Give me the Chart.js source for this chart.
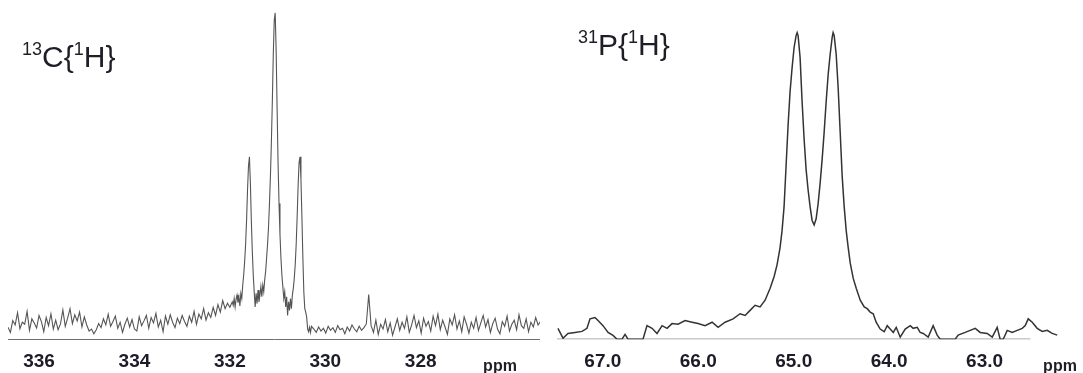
<!DOCTYPE html>
<html><head><meta charset="utf-8">
<script src="https://cdn.jsdelivr.net/npm/chart.js@4/dist/chart.umd.min.js"></script>
<style>
html,body{margin:0;padding:0;background:#fff;width:1083px;height:373px;overflow:hidden}
#c1{position:absolute;left:0;top:0}
#c2{position:absolute;left:540px;top:0}
</style></head><body>
<canvas id="c1" width="540" height="384"></canvas>
<canvas id="c2" width="543" height="384"></canvas>
<script>
// ---------- 13C{1H} spectrum ----------
const c13Ticks = [336, 334, 332, 330, 328];
const c13NoiseLeftStart = 336.65, c13NoiseLeftStep = 0.05;
const c13NoiseLeft = [3.5,2.0,5.5,4.2,7.8,3.1,5.0,4.4,8.2,2.6,6.0,4.8,3.3,7.0,5.2,2.2,6.4,4.0,7.5,3.0,5.6,2.8,
 4.5,8.6,3.8,6.2,9.0,4.6,7.2,5.4,8.0,3.6,6.6,4.2,2.4,3.0,1.6,2.8,4.6,3.4,6.0,4.2,7.4,3.8,5.2,6.8,3.2,
 5.0,2.0,4.4,6.2,3.6,5.8,3.0,2.4,6.6,4.0,5.4,7.0,3.2,6.4,4.8,7.6,3.6,5.6,2.2,6.8,4.4,7.2,5.0,3.4,6.2,
 4.6,7.0,5.2,3.8,6.8,5.0,8.2,4.4,7.4,6.0,9.0,5.6,7.8,6.4,9.4,7.0,10.2,8.0,11.4,9.0,10.6,9.4,11.0];
const c13PeakStart = 331.93, c13PeakStep = 0.02;
const c13Peaks = [10.0,12.0,9.5,11.8,13.0,10.8,12.5,9.8,13.5,12.0,
 16.0,19.0,23.0,28.0,35.0,44.0,51.0,53.8,46.0,35.0,
 26.0,19.0,14.0,9.5,13.5,10.5,14.5,11.0,13.0,15.5,
 12.5,16.0,14.0,17.5,20.0,24.0,28.0,33.0,40.0,48.0,
 58.0,70.0,84.0,94.0,96.2,85.0,68.0,52.0,40.0,31.0,
 24.0,19.0,15.5,12.0,14.0,9.5,12.5,7.0,11.0,8.5,
 12.0,9.0,13.0,15.0,18.0,22.0,28.0,36.0,45.0,52.0,
 53.8,47.0,36.0,24.0,14.0,9.0,8.0,6.5,3.0,2.2,
 3.5,2.0,3.8];
const c13NoiseRightStart = 330.24, c13NoiseRightStep = 0.05;
const c13NoiseRight = [3.0,2.0,3.6,2.4,3.2,1.8,3.8,2.6,3.4,2.0,4.0,2.8,3.2,1.6,3.6,2.4,4.2,3.0,2.2,3.8,2.6,3.4,
 4.5,13.2,4.0,
 2.0,5.6,1.4,4.4,3.0,5.8,2.2,4.8,1.2,3.6,6.0,2.6,5.0,3.2,6.6,2.0,4.2,7.0,3.4,5.4,1.8,6.2,3.8,
 5.2,2.4,6.8,4.0,7.4,2.8,5.6,3.6,1.4,6.0,4.2,7.2,3.0,5.4,2.2,6.6,4.4,1.8,5.0,3.2,6.4,2.6,4.8,7.0,
 3.6,5.8,2.0,4.6,6.2,3.0,1.6,5.2,3.8,6.8,2.4,4.4,5.6,2.8,7.2,4.0,3.2,6.0,2.2,5.0,3.6,6.4,4.2,5.2];

// ---------- 31P{1H} spectrum ----------
const p31Ticks = [67, 66, 65, 64, 63];
const p31Ppm = [67.470,67.417,67.365,67.291,67.218,67.166,67.134,67.082,67.050,66.998,66.945,66.893,66.851,66.799,66.767,66.736,
 66.579,66.537,66.484,66.432,66.379,66.327,66.275,66.212,66.138,66.065,66.002,65.929,65.855,65.792,65.719,65.635,
 65.562,65.509,65.457,65.405,65.352,65.300,65.247,65.205,65.174,65.143,65.122,65.101,65.080,65.059,65.038,65.017,
 64.996,64.975,64.964,64.954,64.933,64.912,64.891,64.870,64.849,64.828,64.807,64.786,64.765,64.744,64.723,64.702,
 64.681,64.660,64.639,64.618,64.597,64.587,64.576,64.555,64.534,64.513,64.492,64.471,64.450,64.429,64.408,64.377,
 64.345,64.303,64.261,64.230,64.199,64.167,64.136,64.094,64.052,64.020,63.989,63.957,63.926,63.884,63.832,63.779,
 63.748,63.706,63.675,63.643,63.591,63.539,63.497,63.465,63.308,63.277,63.203,63.151,63.098,63.046,62.973,62.920,
 62.868,62.837,62.805,62.763,62.711,62.658,62.606,62.574,62.543,62.501,62.449,62.396,62.344,62.292,62.239];
const p31Int = [3.2,0.3,1.7,2.0,2.3,3.2,6.0,6.4,5.5,4.0,2.0,1.1,0,0,1.4,0,
 0,4.0,3.2,1.7,4.0,3.2,4.6,4.4,5.5,5.0,4.6,4.0,5.0,3.5,5.0,6.0,
 7.5,7.0,8.5,10.0,9.5,11.5,15.0,18.5,22.0,27.0,32.0,39.0,51.0,63.0,73.0,80.0,
 86.0,89.5,90.4,89.5,83.0,70.0,59.0,50.0,44.0,39.0,35.0,33.7,35.5,40.0,46.0,53.0,
 61.0,70.0,78.0,84.0,89.0,90.4,89.5,84.0,74.0,61.0,48.0,39.0,32.0,27.0,22.5,18.0,
 15.0,11.5,9.5,9.0,8.0,7.5,5.0,3.0,2.2,4.0,3.0,2.0,3.5,0.6,3.0,4.0,
 3.2,3.5,2.0,1.7,0.6,4.0,1.2,0,0,1.2,2.0,2.6,3.2,2.0,1.7,0.6,
 3.5,0,0,2.6,2.0,2.6,3.2,4.0,6.0,5.0,3.2,2.3,2.6,1.7,1.2];
const p31BaselinePpm = [67.48, 62.52];

// ---------- build point lists ----------
function seg(start, step, vals) {
  return vals.map((y, i) => ({ x: +(start - i * step).toFixed(4), y }));
}
const c13Data = [].concat(
  seg(c13NoiseLeftStart, c13NoiseLeftStep, c13NoiseLeft),
  seg(c13PeakStart, c13PeakStep, c13Peaks),
  seg(c13NoiseRightStart, c13NoiseRightStep, c13NoiseRight));
const p31Data = p31Ppm.map((x, i) => ({ x, y: p31Int[i] }));
const p31Base = p31BaselinePpm.map(x => ({ x, y: 0 }));

const FONT = '"Liberation Sans", Arial, sans-serif';

const nmrText = {
  id: 'nmrText',
  afterDraw(chart, args, o) {
    const ctx = chart.ctx;
    ctx.save();
    ctx.fillStyle = '#1e1e26';
    ctx.textAlign = 'left';
    ctx.textBaseline = 'alphabetic';
    let x = o.x;
    for (const [t, sup] of o.parts) {
      ctx.font = (sup ? '18px ' : '30px ') + FONT;
      ctx.fillText(t, x, sup ? o.y - 12 : o.y);
      x += ctx.measureText(t).width;
    }
    ctx.font = 'bold 16px ' + FONT;
    ctx.textAlign = 'center';
    ctx.fillText('ppm', o.ppmX, o.ppmY);
    ctx.restore();
  }
};

function xAxis(min, max, ticks, fmt, border) {
  return {
    type: 'linear', reverse: true, min, max,
    grid: { display: false, drawTicks: false },
    border: { display: border, color: '#6f6f6f', width: 1 },
    afterBuildTicks: s => { s.ticks = ticks.map(v => ({ value: v })); },
    ticks: { font: { family: FONT, size: 19, weight: 'bold' }, color: '#1c1c28',
             padding: 11, maxRotation: 0, autoSkip: false, callback: fmt }
  };
}

function fitBottom(chart) {
  const d = 344 - chart.chartArea.bottom;
  if (Math.abs(d) > 0.01) chart.resize(chart.width, chart.height + d);
}

const chartC = new Chart(document.getElementById('c1'), {
  type: 'line',
  data: { datasets: [{ data: c13Data, borderColor: '#555', borderWidth: 1.1,
    pointRadius: 0, tension: 0, fill: false }] },
  options: {
    responsive: false, animation: false, devicePixelRatio: 1,
    layout: { padding: { left: 8, right: 0, top: 0, bottom: 0 } },
    plugins: { legend: { display: false }, tooltip: { enabled: false },
      nmrText: { x: 22, y: 67, parts: [['13', true], ['C{', false], ['1', true], ['H}', false]], ppmX: 500, ppmY: 371 } },
    scales: {
      x: xAxis(325.5, 336.65, c13Ticks, v => String(v), true),
      y: { display: false, min: 0, max: 100 }
    }
  },
  plugins: [nmrText]
});

const chartP = new Chart(document.getElementById('c2'), {
  type: 'line',
  data: { datasets: [
    { data: p31Data, borderColor: '#333', borderWidth: 1.5, pointRadius: 0, tension: 0, fill: false },
    { data: p31Base, borderColor: '#5a5a5a', borderWidth: 1, pointRadius: 0, fill: false }
  ] },
  options: {
    responsive: false, animation: false, devicePixelRatio: 1,
    layout: { padding: { left: 17, right: 23, top: 0, bottom: 0 } },
    plugins: { legend: { display: false }, tooltip: { enabled: false },
      nmrText: { x: 38, y: 55, parts: [['31', true], ['P{', false], ['1', true], ['H}', false]], ppmX: 520, ppmY: 371 } },
    scales: {
      x: xAxis(62.21, 67.48, p31Ticks, v => Number(v).toFixed(1), false),
      y: { display: false, min: 0, max: 100 }
    }
  },
  plugins: [nmrText]
});

fitBottom(chartC);
fitBottom(chartP);
</script>
</body></html>
